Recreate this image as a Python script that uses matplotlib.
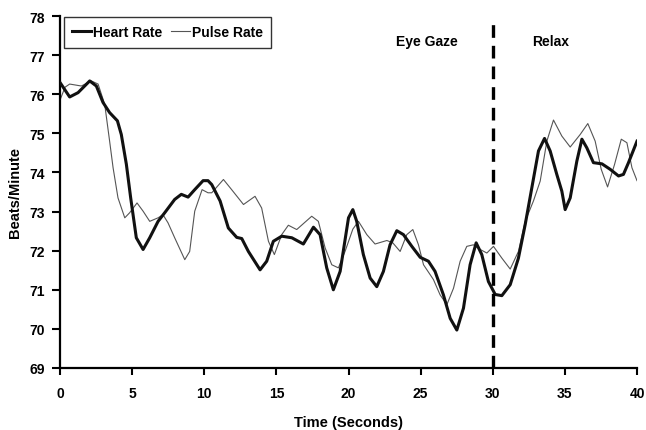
import matplotlib
matplotlib.use("Agg")
import matplotlib.pyplot as plt

# ---- data ----
heart_t = [0, 0.67, 1.25, 2.06, 2.52, 2.98, 3.44, 3.98, 4.25, 4.6, 4.9, 5.29, 5.76,
           6.22, 6.8, 7.26, 7.95, 8.41, 8.88, 9.34, 9.92, 10.26, 10.52, 11.1, 11.67,
           12.25, 12.6, 13.06, 13.87, 14.33, 14.79, 15.37, 16.07, 16.87, 17.57, 18.03,
           18.49, 18.95, 19.42, 20.0, 20.3, 20.57, 21.03, 21.5, 21.96, 22.42, 22.88,
           23.35, 23.81, 24.39, 24.97, 25.54, 26.0, 26.58, 27.05, 27.51, 27.97, 28.43,
           28.85, 29.24, 29.7, 30.17, 30.63, 31.21, 31.78, 32.25, 32.71, 33.17, 33.59,
           33.98, 34.44, 34.79, 35.02, 35.37, 35.83, 36.18, 36.52, 36.98, 37.57, 38.14,
           38.72, 39.06, 39.41, 40.0]
heart_v = [76.30, 75.93, 76.04, 76.34, 76.21, 75.79, 75.53, 75.32, 74.97, 74.21, 73.35,
           72.33, 72.03, 72.33, 72.75, 72.97, 73.31, 73.44, 73.37, 73.56, 73.79, 73.79,
           73.69, 73.27, 72.58, 72.34, 72.31, 71.98, 71.51, 71.73, 72.24, 72.37, 72.33,
           72.17, 72.60, 72.41, 71.56, 71.00, 71.47, 72.84, 73.05, 72.75, 71.90, 71.30,
           71.08, 71.47, 72.15, 72.51, 72.41, 72.11, 71.83, 71.73, 71.47, 70.87, 70.27,
           69.97, 70.53, 71.64, 72.20, 71.90, 71.21, 70.88, 70.85, 71.13, 71.81, 72.67,
           73.61, 74.55, 74.87, 74.55, 73.95, 73.52, 73.05, 73.35, 74.29, 74.85, 74.63,
           74.25, 74.22, 74.08, 73.91, 73.95, 74.25, 74.80]

pulse_t = [0, 0.35, 0.67, 1.48, 2.17, 2.64, 3.1, 3.44, 3.68, 4.02, 4.49, 4.83, 5.34,
           5.76, 6.22, 6.8, 7.14, 7.49, 7.95, 8.65, 8.99, 9.34, 9.85, 10.26, 10.52,
           11.33, 11.9, 12.72, 13.52, 13.98, 14.45, 14.86, 15.37, 15.83, 16.41, 17.45,
           17.91, 18.38, 18.84, 19.3, 19.76, 20.3, 20.69, 21.27, 21.84, 22.66, 23.07,
           23.58, 24.04, 24.46, 24.85, 25.2, 25.89, 26.35, 26.82, 27.28, 27.74, 28.2,
           28.66, 29.13, 29.59, 30.05, 30.63, 31.21, 31.78, 32.25, 32.82, 33.29, 33.75,
           34.21, 34.79, 35.37, 36.06, 36.59, 37.1, 37.52, 37.96, 38.44, 38.91, 39.3,
           39.65, 40.0]
pulse_v = [75.85, 76.18, 76.26, 76.21, 76.34, 76.26, 75.74, 74.80, 74.12, 73.35, 72.84,
           72.97, 73.22, 73.01, 72.75, 72.84, 72.92, 72.71, 72.33, 71.77, 71.98, 73.01,
           73.56, 73.48, 73.48, 73.82, 73.56, 73.18, 73.39, 73.09, 72.24, 71.90, 72.41,
           72.65, 72.54, 72.88, 72.75, 72.07, 71.64, 71.56, 71.98, 72.55, 72.75, 72.41,
           72.17, 72.26, 72.20, 71.98, 72.41, 72.54, 72.15, 71.64, 71.26, 70.87, 70.62,
           71.04, 71.73, 72.11, 72.15, 72.03, 71.94, 72.11, 71.81, 71.53, 71.98, 72.75,
           73.27, 73.78, 74.80, 75.34, 74.93, 74.65, 74.97, 75.25, 74.80, 74.08, 73.63,
           74.20, 74.85, 74.76, 74.12, 73.79]

series_labels = ["Heart Rate", "Pulse Rate"]
x_ticks = [0, 5, 10, 15, 20, 25, 30, 35, 40]
y_ticks = [69, 70, 71, 72, 73, 74, 75, 76, 77, 78]
phase_labels = ["Eye Gaze", "Relax"]
phase_label_x = [25.45, 34.0]
phase_label_y = 77.37
boundary_t = 30

plt.rcParams['font.family'] = ['Liberation Sans', 'DejaVu Sans']
plt.rcParams['font.weight'] = 'bold'

W, H = 646, 431
fig = plt.figure(figsize=(W / 100, H / 100), dpi=100)
ax = fig.add_axes([60 / W, 1 - 369 / H, (637 - 60) / W, (369 - 17) / H])

ax.plot(heart_t, heart_v, color='#111111', lw=2.2, label=series_labels[0],
        solid_joinstyle='round', zorder=3)
ax.plot(pulse_t, pulse_v, color='#555555', lw=0.8, label=series_labels[1], zorder=2)

ax.axvline(boundary_t, ymin=0, ymax=(77.92 - 69) / 9, color='black', lw=2.4,
           ls=(0, (3.8, 2.4)), zorder=4)

for lab, xx in zip(phase_labels, phase_label_x):
    ax.text(xx, phase_label_y, lab, ha='center', va='center', fontsize=10,
            fontweight='bold')

ax.set_xlim(0, 40)
ax.set_ylim(69, 78)
ax.set_xticks(x_ticks)
ax.set_yticks(y_ticks)
ax.tick_params(direction='out', width=1.5, labelsize=10, colors='black')
ax.tick_params(axis='x', length=5, pad=8)
ax.tick_params(axis='y', length=6, pad=5)
for lbl in ax.get_xticklabels() + ax.get_yticklabels():
    lbl.set_fontweight('bold')

for s in ['top', 'right']:
    ax.spines[s].set_visible(False)
for s in ['left', 'bottom']:
    ax.spines[s].set_linewidth(1.6)

ax.set_xlabel("Time (Seconds)", fontsize=10.5, fontweight='bold', labelpad=11)
ax.set_ylabel("Beats/Minute", fontsize=10.5, fontweight='bold', labelpad=5)

leg = ax.legend(loc='upper left', bbox_to_anchor=(64 / W, 1 - 18 / H),
                bbox_transform=fig.transFigure, ncol=2, frameon=True,
                fancybox=False, edgecolor='black', borderaxespad=0,
                handlelength=1.35, handletextpad=0.15, columnspacing=0.6,
                borderpad=0.6, prop={'weight': 'bold', 'size': 10})
leg.get_frame().set_linewidth(1.0)

fig.savefig("out.png", dpi=100)
